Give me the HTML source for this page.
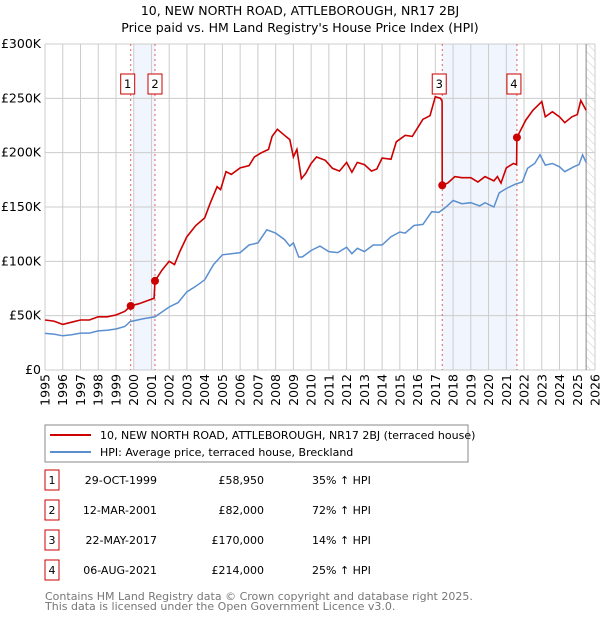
<!DOCTYPE html>
<html><head><meta charset="utf-8">
<style>
body{margin:0;background:#fff;font-family:"DejaVu Sans","Liberation Sans",sans-serif;}
svg text{font-family:"DejaVu Sans","Liberation Sans",sans-serif;}
</style></head>
<body>
<svg id="c" width="600" height="620" xmlns="http://www.w3.org/2000/svg">
<defs><pattern id="hatch" width="6" height="6" patternUnits="userSpaceOnUse" patternTransform="rotate(-45)"><line x1="0" y1="0" x2="0" y2="6" stroke="#ccc" stroke-width="1"/></pattern></defs>
<text x="300" y="15" text-anchor="middle" font-size="12.5" fill="#000">10, NEW NORTH ROAD, ATTLEBOROUGH, NR17 2BJ</text>
<text x="300" y="32" text-anchor="middle" font-size="12.5" fill="#000">Price paid vs. HM Land Registry's House Price Index (HPI)</text>
<g id="plot"></g>
<rect x="45" y="425" width="423" height="37" fill="#fff" stroke="#888"/>
<line x1="50" y1="435" x2="91" y2="435" stroke="#cc0000" stroke-width="2"/>
<text x="100" y="439" font-size="11">10, NEW NORTH ROAD, ATTLEBOROUGH, NR17 2BJ (terraced house)</text>
<line x1="50" y1="452" x2="91" y2="452" stroke="#5b8fd0" stroke-width="2"/>
<text x="100" y="456" font-size="11">HPI: Average price, terraced house, Breckland</text>
<g id="table" font-size="11"></g>
<text x="45" y="600" font-size="11" fill="#777">Contains HM Land Registry data © Crown copyright and database right 2025.</text>
<text x="45" y="610" font-size="11" fill="#777">This data is licensed under the Open Government Licence v3.0.</text>
</svg>
<script>
const yTicks=[0,50,100,150,200,250,300];
const yTickLabels=["£0","£50K","£100K","£150K","£200K","£250K","£300K"];
const years=[1995,1996,1997,1998,1999,2000,2001,2002,2003,2004,2005,2006,2007,2008,2009,2010,2011,2012,2013,2014,2015,2016,2017,2018,2019,2020,2021,2022,2023,2024,2025,2026];
const hpiT=[1995,1995.5,1996,1996.5,1997,1997.5,1998,1998.5,1999,1999.5,1999.8,2000.5,2001.2,2002,2002.5,2003,2003.5,2004,2004.5,2005,2005.5,2006,2006.5,2007,2007.5,2008,2008.5,2008.8,2009,2009.3,2009.5,2010,2010.5,2011,2011.5,2012,2012.3,2012.6,2013,2013.5,2014,2014.5,2015,2015.3,2015.8,2016.3,2016.8,2017.2,2017.6,2018,2018.5,2019,2019.5,2019.8,2020.3,2020.6,2021,2021.5,2021.9,2022.2,2022.6,2022.9,2023.2,2023.6,2024,2024.3,2024.8,2025.1,2025.3,2025.5];
const hpiV=[33.7,33,31.5,32.5,34,34,36,36.5,37.7,40,44.5,47,49,58,62,72,77,83,97,106,107,108,115,117,129,126,120,114,117,104,104,110,114,109,108,113,107,112,109,115,115,122.7,127,126,133,134,145.7,145,150,156,153,154,151,154,150,163,167,171,173,185.6,190,198,188.6,190,187,182.5,187,189,198,191];
const redT=[1995,1995.5,1996,1996.5,1997,1997.5,1998,1998.5,1999,1999.5,1999.83,2000.3,2000.8,2001.15,2001.2,2001.6,2002,2002.3,2002.6,2003,2003.5,2004,2004.3,2004.7,2004.9,2005.2,2005.5,2006,2006.5,2006.8,2007.2,2007.6,2007.8,2008.1,2008.5,2008.8,2009,2009.2,2009.45,2009.7,2010,2010.3,2010.8,2011.2,2011.6,2012,2012.3,2012.6,2013,2013.4,2013.7,2014,2014.5,2014.8,2015.3,2015.7,2016.3,2016.7,2017.0,2017.3,2017.38,2017.39,2017.7,2018.1,2018.5,2019,2019.4,2019.8,2020.3,2020.5,2020.7,2021,2021.4,2021.58,2021.6,2022.1,2022.5,2023,2023.2,2023.6,2024,2024.3,2024.7,2025,2025.2,2025.5];
const redV=[46,45,42,44,46,46,49,49,50.6,54,58.95,61,64,66,82,92,100,97,109,122.7,133,140,153,168.7,166,182.5,180,186,188,196,200,203,215,221.5,216,212,196,203,176,181,190,196,193,185.6,183,191,182,191,189,183,185,195,194,210,216,215,230.7,234,251.5,250,247,170,172,178,177,177,173,178,174,178,172,186,190,189,214,230,239,247,233,237.7,233,227.6,233,235,248,239];
const saleT=[1999.83,2001.2,2017.39,2021.6];
const saleV=[58.95,82,170,214];
const saleLabels=["1","2","3","4"];
const saleDates=["29-OCT-1999","12-MAR-2001","22-MAY-2017","06-AUG-2021"];
const salePrices=["£58,950","£82,000","£170,000","£214,000"];
const saleHpi=["35% ↑ HPI","72% ↑ HPI","14% ↑ HPI","25% ↑ HPI"];

const X0=45,X1=595,Y0=370,YT=44;
const xs=t=>X0+(t-1995)*(X1-X0)/31;
const ys=v=>Y0-v*(Y0-YT)/300;
const NS="http://www.w3.org/2000/svg";
const plot=document.getElementById('plot');
function mk(tag,attrs,parent){const e=document.createElementNS(NS,tag);for(const k in attrs)e.setAttribute(k,attrs[k]);(parent||plot).appendChild(e);return e;}

let s=mk('rect',{x:xs(2000),y:YT,width:xs(saleT[1])-xs(2000),height:Y0-YT,fill:'#eef3fc',opacity:0.8});


s=mk('rect',{x:xs(saleT[2]),y:YT,width:xs(saleT[3])-xs(saleT[2]),height:Y0-YT,fill:'#eef3fc',opacity:0.8});


s=mk('rect',{x:xs(2025.5),y:YT,width:X1-xs(2025.5),height:Y0-YT,fill:'url(#hatch)'});


yTicks.forEach((v,i)=>{
 let l=mk('line',{x1:X0,x2:X1,y1:ys(v),y2:ys(v),stroke:'#ccc','stroke-width':1});
 
 
 let t=mk('text',{x:X0-4,y:ys(v)+4,'text-anchor':'end','font-size':12.5});
 t.textContent=yTickLabels[i];
 
 
});
years.forEach(y=>{
 let l=mk('line',{x1:xs(y),x2:xs(y),y1:YT,y2:Y0,stroke:'#ccc','stroke-width':1});
 
 
 let t=mk('text',{x:0,y:0,'text-anchor':'end','font-size':12.5,transform:`translate(${xs(y)+4.5},${Y0+4}) rotate(-90)`});
 t.textContent=y;
 
 
});
let ln=mk('line',{x1:xs(2025.5),x2:xs(2025.5),y1:YT,y2:Y0,stroke:'#888','stroke-width':1});


saleT.forEach((t,i)=>{
 let l=mk('line',{x1:xs(t),x2:xs(t),y1:YT,y2:Y0,stroke:'#e06060','stroke-width':1,'stroke-dasharray':'2,3'});
 
 
});
const path=(T,V)=>T.map((t,i)=>(i?'L':'M')+xs(t).toFixed(1)+','+ys(V[i]).toFixed(1)).join('');
let ph=mk('path',{d:path(hpiT,hpiV),fill:'none',stroke:'#5b8fd0','stroke-width':1.5});


let pr=mk('path',{d:path(redT,redV),fill:'none',stroke:'#cc0000','stroke-width':1.6});


const boxOff=[-10,-7,-10,-10];
saleT.forEach((t,i)=>{
 let c=mk('circle',{cx:xs(t),cy:ys(saleV[i]),r:4,fill:'#cc0000'});
 
 
 const bx=xs(t)+boxOff[i], by=74;
 let r=mk('rect',{x:bx,y:by,width:14,height:20,fill:'#fff',stroke:'#cc0000'});
 
 
 let tx=mk('text',{x:bx+7,y:by+14,'text-anchor':'middle','font-size':11.5});
 tx.textContent=saleLabels[i];
 
 
});
const tb=document.getElementById('table');
saleLabels.forEach((lab,i)=>{
 const y=483+i*30;
 let r=mk('rect',{x:45,y:y-13,width:14,height:20,fill:'#fff',stroke:'#cc0000'},tb);
 
 
 let t=mk('text',{x:52,y:y+1,'text-anchor':'middle'},tb);t.textContent=lab;
 
 
 t=mk('text',{x:157,y:y+1,'text-anchor':'end'},tb);t.textContent=saleDates[i];
 
 
 t=mk('text',{x:264,y:y+1,'text-anchor':'end'},tb);t.textContent=salePrices[i];
 
 
 t=mk('text',{x:312,y:y+1},tb);t.textContent=saleHpi[i];
 
 
});
</script>
</body></html>
